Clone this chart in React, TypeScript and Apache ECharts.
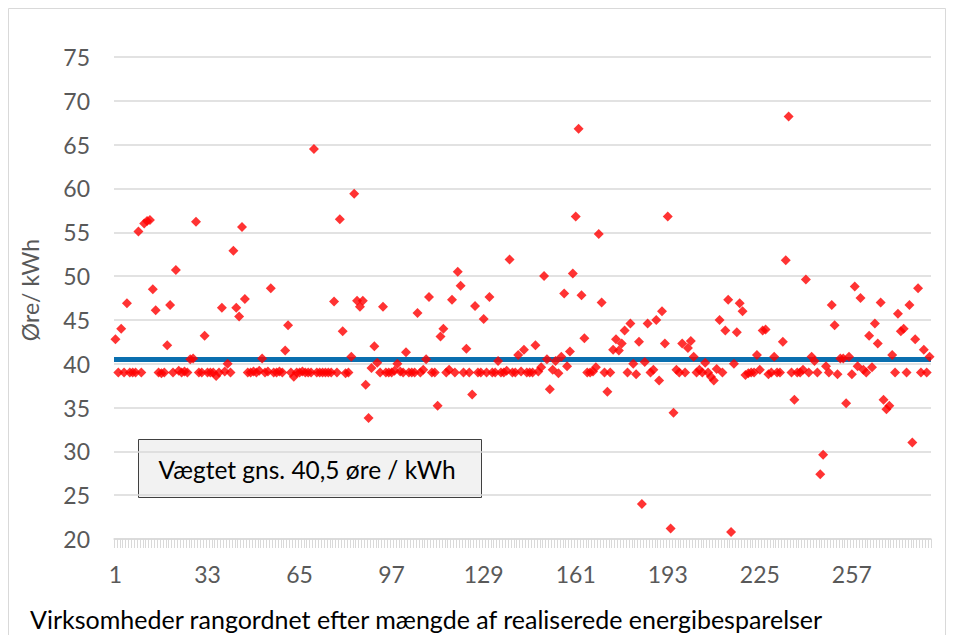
import React, { useEffect, useRef } from "react";
import * as echarts from "echarts";

const values: number[] = [
  42.8, 39, 44.0, 39, 46.9, 39, 39, 39, 55.1, 39,
  56.0, 56.3, 56.4, 48.5, 46.1, 39, 38.9, 39, 42.1, 46.7,
  39, 50.7, 39.2, 39, 39.1, 39, 40.5, 40.6, 56.2, 39,
  39, 43.2, 39, 39, 39, 38.6, 39, 46.4, 39.1, 40.0,
  39, 52.9, 46.4, 45.4, 55.6, 47.4, 39, 39, 39.1, 39,
  39.2, 40.6, 39, 39.1, 48.6, 39, 39, 39.1, 39, 41.5,
  44.4, 39, 38.5, 39, 39, 39.1, 39, 39, 39, 64.5,
  39, 39, 39, 39, 39, 39, 47.1, 39, 56.5, 43.7,
  38.9, 39.0, 40.8, 59.4, 47.2, 46.5, 47.2, 37.6, 33.8, 39.5,
  42.0, 40.1, 39, 46.5, 39, 39, 39, 39.2, 40.0, 39.1,
  39, 41.3, 39, 39, 39, 45.8, 39, 39.3, 40.5, 47.6,
  39, 39, 35.2, 43.1, 44.0, 39, 39.3, 47.3, 39, 50.5,
  48.9, 39, 41.7, 39, 36.5, 46.6, 39, 39, 45.1, 39,
  47.6, 39, 39, 40.3, 39, 39, 39.2, 51.9, 39, 39,
  41.0, 39.1, 41.6, 39, 39, 39, 42.1, 39.1, 39.6, 50.0,
  40.5, 37.1, 39.3, 40.3, 38.9, 40.8, 48.0, 39.7, 41.4, 50.3,
  56.8, 66.8, 47.8, 42.9, 39, 39, 39.1, 39.6, 54.8, 47.0,
  39, 36.8, 39.0, 41.6, 42.8, 41.5, 42.3, 43.8, 39, 44.6,
  40.0, 38.8, 42.5, 24.0, 40.2, 44.6, 39, 39.3, 45.0, 38.1,
  46.0, 42.3, 56.8, 21.2, 34.4, 39.3, 39, 42.3, 39, 41.8,
  42.6, 40.8, 39, 39.3, 39, 40.1, 39, 38.5, 38.1, 39.4,
  45.0, 39, 43.8, 47.3, 20.8, 40.0, 43.6, 46.9, 46.0, 38.7,
  38.9, 39, 39, 41.0, 39.3, 43.8, 43.9, 38.8, 39, 40.8,
  39, 39, 42.5, 51.8, 68.2, 39, 35.9, 39, 39, 39.3,
  49.6, 39, 40.8, 40.3, 39, 27.4, 29.6, 39.7, 39, 46.7,
  44.4, 38.8, 40.6, 40.6, 35.5, 40.8, 38.8, 48.8, 39.7, 47.5,
  39.3, 39, 43.2, 39.6, 44.6, 42.3, 47.0, 35.9, 34.8, 35.2,
  41.0, 39.0, 45.7, 43.7, 44.0, 39, 46.7, 31.0, 42.8, 48.6,
  39, 41.6, 39.0, 40.8,
];

const categories: string[] = values.map((_, i) => String(i + 1));

const weightedAverage = 40.5;
const yTicks = { min: 20, max: 75, step: 5 };
const yTitle = "Øre/ kWh";
const xTitle = "Virksomheder rangordnet efter mængde af realiserede energibesparelser";
const boxText = "Vægtet gns. 40,5 øre / kWh";

const FONT = "Lato, 'Open Sans', sans-serif";

export default function App() {
  const ref = useRef<HTMLDivElement>(null);

  useEffect(() => {
    if (!ref.current) return;
    const chart = echarts.init(ref.current, undefined, { renderer: "svg" });
    chart.setOption({
      animation: false,
      backgroundColor: "#ffffff",
      textStyle: { fontFamily: FONT },
      grid: { left: 114, right: 23, top: 57, bottom: 96, containLabel: false },
      xAxis: {
        type: "category",
        data: categories,
        boundaryGap: true,
        axisLine: { show: true, lineStyle: { color: "#D9D9D9", width: 1.5 } },
        axisTick: { show: true, interval: 0, length: 9, lineStyle: { color: "#D9D9D9", width: 1 } },
        axisLabel: { interval: 31, color: "#595959", fontSize: 23, fontFamily: FONT, margin: 23 },
        splitLine: { show: false },
      },
      yAxis: {
        type: "value",
        min: yTicks.min,
        max: yTicks.max,
        interval: yTicks.step,
        axisLine: { show: false },
        axisTick: { show: false },
        axisLabel: { color: "#595959", fontSize: 23, fontFamily: FONT, margin: 24 },
        splitLine: { show: true, lineStyle: { color: "#D9D9D9", width: 1.5 } },
      },
      series: [
        {
          type: "scatter",
          data: values,
          symbol: "diamond",
          symbolSize: 10,
          itemStyle: { color: "#FF0000" },
          z: 3,
          markLine: {
            silent: true,
            symbol: "none",
            label: { show: false },
            lineStyle: { color: "#0A6FAF", width: 5, type: "solid" },
            data: [{ yAxis: weightedAverage }],
            z: 2,
          },
        },
      ],
      graphic: [
        {
          type: "rect",
          shape: { x: 8.5, y: 8.5, width: 937, height: 700 },
          style: { fill: "none", stroke: "#D9D9D9", lineWidth: 1 },
          silent: true,
          z: 0,
        },
        {
          type: "text",
          x: 30,
          y: 290,
          rotation: Math.PI / 2,
          style: {
            text: yTitle,
            fill: "#595959",
            font: `23px ${FONT}`,
            align: "center",
            verticalAlign: "middle",
          },
        },
        {
          type: "text",
          x: 30,
          y: 619,
          style: {
            text: xTitle,
            fill: "#000000",
            font: `25px ${FONT}`,
            align: "left",
            verticalAlign: "middle",
          },
        },
        {
          type: "group",
          z: 10,
          children: [
            {
              type: "rect",
              shape: { x: 138.5, y: 439.5, width: 343, height: 58 },
              style: { fill: "#F2F2F2", stroke: "#404040", lineWidth: 1 },
            },
            {
              type: "text",
              x: 307,
              y: 469,
              style: {
                text: boxText,
                fill: "#000000",
                font: `24.5px ${FONT}`,
                align: "center",
                verticalAlign: "middle",
              },
            },
          ],
        },
      ],
    });
    return () => chart.dispose();
  }, []);

  return (
    <div
      ref={ref}
      style={{ position: "absolute", left: 0, top: 0, width: 954, height: 635 }}
    />
  );
}
